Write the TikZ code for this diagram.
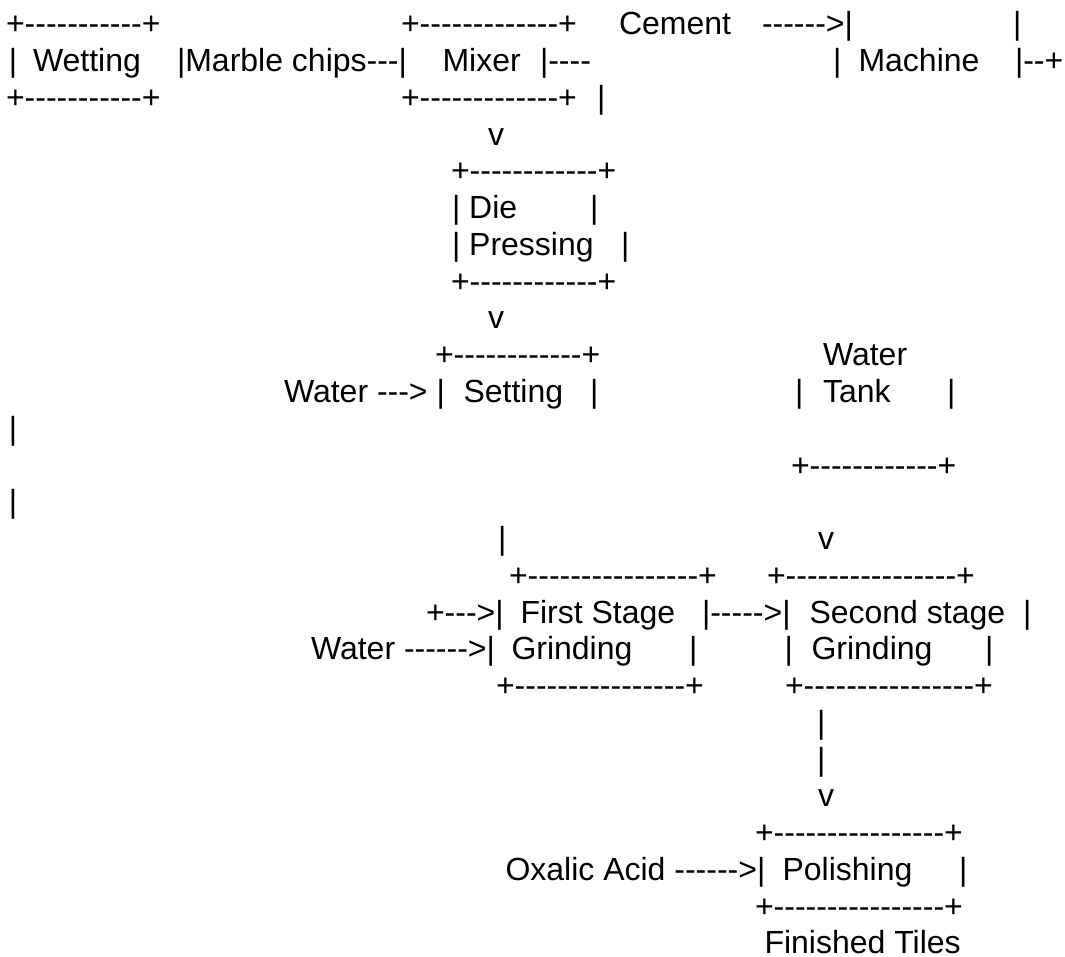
\documentclass[tikz,border=0pt]{standalone}
\usepackage{fontspec}
\newfontfamily\af{Liberation Sans}
\ExplSyntaxOn
\cs_new:Npn \mydash #1 { \prg_replicate:nn {#1} {-} }
\ExplSyntaxOff
\tikzset{txt/.style={anchor=base west, inner sep=0pt, outer sep=0pt, text=black, font=\af\fontsize{32}{36.75}\selectfont}}
\begin{document}
\begin{tikzpicture}[x=1pt,y=-1pt]
\useasboundingbox (0,0) rectangle (1065,957);
\fill[white] (0,0) rectangle (1065,957);
% row 0
\node[txt] (r0a) at (6,35) {+\mydash{11}+};
\node[txt] (r0b) at (401,35) {+\mydash{13}+};
\node[txt] (r0c) at (619,35) {Cement};
\node[txt] (r0d) at (762,35) {\mydash{6}>|};
\node[txt] (r0e) at (1013,35) {|};
% row 1
\node[txt] (r1a) at (9,71.75) {|};
\node[txt] (r1b) at (33,71.75) {Wetting};
\node[txt] (r1c) at (177,71.75) {|Marble chips\mydash{3}|};
\node[txt] (r1d) at (442.5,71.75) {Mixer};
\node[txt] (r1e) at (540,71.75) {|\mydash{4}};
\node[txt] (r1f) at (833,71.75) {|};
\node[txt] (r1g) at (858.5,71.75) {Machine};
\node[txt] (r1h) at (1015,71.75) {|\mydash{2}+};
% row 2
\node[txt] (r2a) at (6,108.5) {+\mydash{11}+};
\node[txt] (r2b) at (401,108.5) {+\mydash{13}+};
\node[txt] (r2c) at (597,108.5) {|};
% row 3
\node[txt] (r3a) at (488,145.25) {v};
% row 4
\node[txt] (r4a) at (451,182) {+\mydash{12}+};
% row 5
\node[txt] (r5a) at (452,218.75) {| Die};
\node[txt] (r5b) at (590,218.75) {|};
% row 6
\node[txt] (r6a) at (452,255.5) {| Pressing};
\node[txt] (r6b) at (621,255.5) {|};
% row 7
\node[txt] (r7a) at (451,292.25) {+\mydash{12}+};
% row 8
\node[txt] (r8a) at (488,329) {v};
% row 9
\node[txt] (r9a) at (435,365.75) {+\mydash{12}+};
\node[txt] (r9b) at (823,365.75) {Water};
% row 10
\node[txt] (r10a) at (284,402.5) {Water \mydash{3}> |};
\node[txt] (r10b) at (463.5,402.5) {Setting};
\node[txt] (r10c) at (590,402.5) {|};
\node[txt] (r10d) at (795,402.5) {|};
\node[txt] (r10e) at (823,402.5) {Tank};
\node[txt] (r10f) at (947,402.5) {|};
% row 11
\node[txt] (r11a) at (9,439.25) {|};
% row 12
\node[txt] (r12a) at (791,476) {+\mydash{12}+};
% row 13
\node[txt] (r13a) at (9,512.75) {|};
% row 14
\node[txt] (r14a) at (498,549.5) {|};
\node[txt] (r14b) at (818,549.5) {v};
% row 15
\node[txt] (r15a) at (509,586.25) {+\mydash{16}+};
\node[txt] (r15b) at (767,586.25) {+\mydash{16}+};
% row 16
\node[txt] (r16a) at (426,623) {+\mydash{3}>|};
\node[txt] (r16b) at (520.5,623) {First Stage};
\node[txt] (r16c) at (702,623) {|\mydash{5}>|};
\node[txt] (r16d) at (809.5,623) {Second stage};
\node[txt] (r16e) at (1023,623) {|};
% row 17
\node[txt] (r17a) at (311,659.75) {Water \mydash{6}>|};
\node[txt] (r17b) at (511.5,659.75) {Grinding};
\node[txt] (r17c) at (689,659.75) {|};
\node[txt] (r17d) at (784.5,659.75) {|};
\node[txt] (r17e) at (811.5,659.75) {Grinding};
\node[txt] (r17f) at (985,659.75) {|};
% row 18
\node[txt] (r18a) at (496,696.5) {+\mydash{16}+};
\node[txt] (r18b) at (785,696.5) {+\mydash{16}+};
% rows 19-21
\node[txt] (r19a) at (817,733.25) {|};
\node[txt] (r20a) at (817,770) {|};
\node[txt] (r21a) at (818,806.75) {v};
% row 22
\node[txt] (r22a) at (755,843.5) {+\mydash{16}+};
% row 23
\node[txt] (r23a) at (505.5,880.25) {Oxalic Acid \mydash{6}>|};
\node[txt] (r23b) at (782.5,880.25) {Polishing};
\node[txt] (r23c) at (959,880.25) {|};
% row 24
\node[txt] (r24a) at (755,917) {+\mydash{16}+};
% row 25
\node[txt] (r25a) at (764.5,953.75) {Finished Tiles};
\end{tikzpicture}
\end{document}
